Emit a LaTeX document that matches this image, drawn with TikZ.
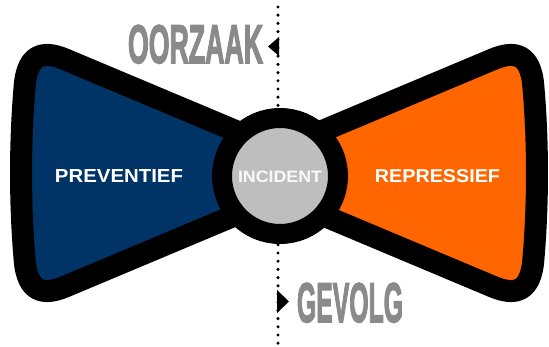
\documentclass[tikz,border=0pt]{standalone}
\usepackage{fontspec}
\setmainfont{Liberation Sans}
\newfontfamily\condfont{Liberation Sans Bold}[FakeBold=3]
\usepackage{graphicx}
\definecolor{navy}{RGB}{0,51,102}
\definecolor{orng}{RGB}{255,102,0}
\definecolor{circgray}{RGB}{190,190,190}
\definecolor{txtgray}{RGB}{138,138,138}
\newcommand\bowwing{(65.0,59.3) -- (280,149.6) -- (280,196.4) -- (65.0,286.7)
  .. controls (41.1,296.8) and (28.4,289.5) .. (25.0,263.7)
  .. controls (19.7,205) and (19.7,141) .. (25.0,82.3)
  .. controls (28.4,56.5) and (41.1,49.2) .. (65.0,59.3) -- cycle}
\begin{document}
\begin{tikzpicture}[x=1pt,y=-1pt,
  wing/.style={draw=black, line width=22pt, line join=round},
  dotline/.style={draw=black, line width=3.4pt, line cap=round, dash pattern=on 0pt off 8.2pt},
  lbl/.style={inner sep=0pt, anchor=base, text=white, font=\bfseries},
  bigtxt/.style={inner sep=0pt, anchor=base, text=txtgray, font=\condfont},
  arrowtri/.style={fill=black}]
\useasboundingbox (0,0) rectangle (549,347);
% dotted axis
\coordinate (dtop) at (278,7);
\coordinate (dbot) at (278,345);
\draw[dotline] (dtop) -- (dbot);
% wings
\path[wing, fill=navy] \bowwing;
\begin{scope}[xshift=558pt, xscale=-1]
\path[wing, fill=orng] \bowwing;
\end{scope}
% central circle
\node[circle, draw=black, fill=circgray, line width=20pt, minimum size=116pt, inner sep=0pt] (incident) at (280,176) {};
% labels
\node[lbl] (prev) at (119,183) {\resizebox{128pt}{13pt}{PREVENTIEF}};
\node[lbl] (rep) at (437.5,183) {\resizebox{125pt}{13pt}{REPRESSIEF}};
\node[lbl, text=white!95!gray] (inc) at (280,183) {\resizebox{84pt}{11.5pt}{INCIDENT}};
% cause / effect
\node[bigtxt] (oorz) at (195.5,63) {\resizebox{135pt}{38pt}{OORZAAK}};
\node[bigtxt] (gev) at (350,322) {\resizebox{106pt}{39pt}{GEVOLG}};
% arrow marks
\fill[arrowtri] (279,37) -- (268,46.5) -- (279,56) -- cycle;
\fill[arrowtri] (277,290) -- (289,301.5) -- (277,313) -- cycle;
\end{tikzpicture}
\end{document}
